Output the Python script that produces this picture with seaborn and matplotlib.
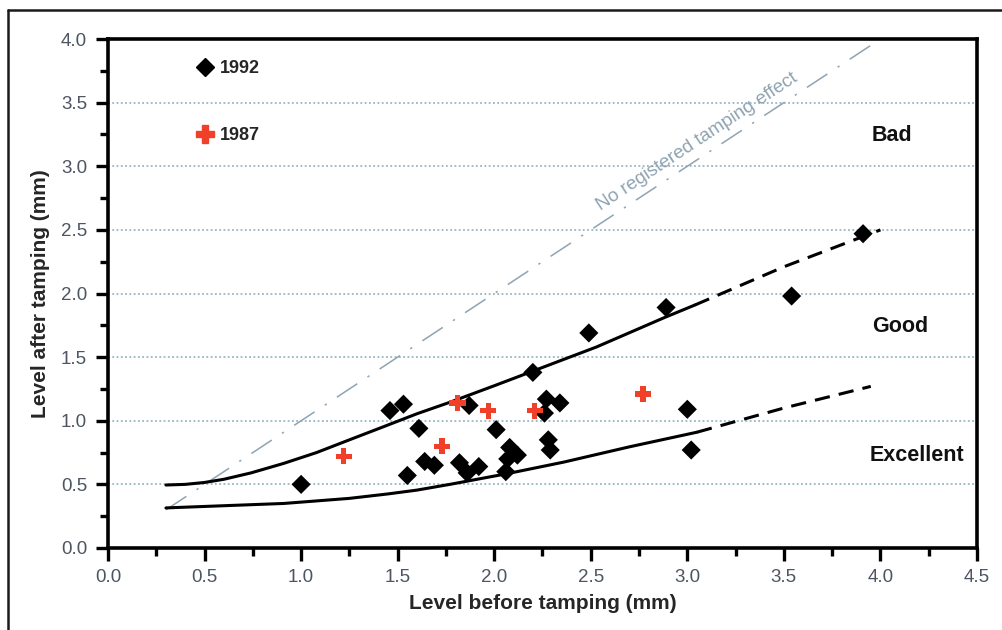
import numpy as np
import pandas as pd
import matplotlib
matplotlib.use("Agg")
import matplotlib.pyplot as plt
from matplotlib.lines import Line2D
from matplotlib.ticker import MultipleLocator, FormatStrFormatter
import seaborn as sns

# ---- data ----
x_1992 = [1.00, 1.46, 1.53, 1.61, 1.55, 1.64, 1.69, 1.82, 1.86, 1.92, 1.87, 2.01,
          2.20, 2.08, 2.12, 2.07, 2.06, 2.27, 2.34, 2.26, 2.28, 2.29, 3.91, 3.54,
          2.89, 2.49, 3.00, 3.02]
y_1992 = [0.50, 1.08, 1.13, 0.94, 0.57, 0.68, 0.65, 0.67, 0.59, 0.64, 1.12, 0.93,
          1.38, 0.79, 0.73, 0.70, 0.60, 1.17, 1.14, 1.06, 0.85, 0.77, 2.47, 1.98,
          1.89, 1.69, 1.09, 0.77]
x_1987 = [1.22, 1.73, 1.81, 1.97, 2.21, 2.77]
y_1987 = [0.72, 0.80, 1.14, 1.08, 1.08, 1.21]

upper_x = [0.30, 0.40, 0.50, 0.60, 0.74, 0.91, 1.08, 1.25, 1.43, 1.60, 1.77, 2.00,
           2.20, 2.53, 2.88, 3.04]
upper_y = [0.495, 0.50, 0.515, 0.54, 0.59, 0.665, 0.75, 0.85, 0.955, 1.055, 1.145,
           1.275, 1.39, 1.58, 1.81, 1.91]
upper_dash_x = [3.04, 3.50, 4.00]
upper_dash_y = [1.91, 2.21, 2.50]
lower_x = [0.30, 0.56, 0.91, 1.25, 1.45, 1.60, 1.77, 2.07, 2.36, 2.70, 3.05]
lower_y = [0.315, 0.33, 0.35, 0.39, 0.425, 0.455, 0.50, 0.585, 0.675, 0.795, 0.91]
lower_dash_x = [3.05, 3.50, 3.95]
lower_dash_y = [0.91, 1.10, 1.27]
diag_x = [0.30, 4.00]
diag_y = [0.30, 4.00]

zone_labels = ["Bad", "Good", "Excellent"]
zone_x = [4.06, 4.10, 4.19]
zone_y = [3.24, 1.74, 0.73]

years = ["1992", "1987"]

df = pd.DataFrame({
    "before": x_1992 + x_1987,
    "after": y_1992 + y_1987,
    "year": ["1992"] * len(x_1992) + ["1987"] * len(x_1987),
})

# ---- style ----
sns.set_style("white")
plt.rcParams["font.family"] = ["Liberation Sans", "DejaVu Sans"]

fig = plt.figure(figsize=(10.03, 6.30), dpi=100)
ax = fig.add_axes([108 / 1003, 1 - 548 / 630, (977 - 108) / 1003, (548 - 39) / 630])

grid_c = "#86aabb"
for yv in [0.5, 1.0, 1.5, 2.0, 2.5, 3.0, 3.5]:
    ax.axhline(yv, color=grid_c, lw=1.1, ls=(0, (1.2, 1.6)), zorder=0)

# diagonal reference
ax.plot(diag_x, diag_y, color="#8fa3b2", lw=1.1, ls=(0, (16, 8, 1.5, 8)), zorder=1)

# curves
for xs, ys, style in [(upper_x, upper_y, "-"), (lower_x, lower_y, "-"),
                      (upper_dash_x, upper_dash_y, (0, (5, 3))),
                      (lower_dash_x, lower_dash_y, (0, (5, 3)))]:
    sns.lineplot(x=xs, y=ys, ax=ax, color="black", lw=2.2, linestyle=style,
                 sort=False, estimator=None, zorder=2)

sns.scatterplot(data=df, x="before", y="after", hue="year", style="year",
                hue_order=years, style_order=years,
                palette={"1992": "black", "1987": "#f0402a"},
                markers={"1992": "D", "1987": "P"},
                s=95, linewidth=0, ax=ax, zorder=3, legend=False)
ax.collections[-1].set_sizes([95 if y == "1992" else 135 for y in df["year"]])

handles = [Line2D([], [], marker="D", color="black", ls="", markersize=9.5),
           Line2D([], [], marker="P", color="#f0402a", ls="", markersize=12.5)]
leg = ax.legend(handles, years, loc="upper left", bbox_to_anchor=(0.081, 0.99),
                frameon=False, labelspacing=2.75, handletextpad=0.2,
                prop={"weight": "bold", "size": 13}, handlelength=1.2)

for lab, xv, yv in zip(zone_labels, zone_x, zone_y):
    ax.text(xv, yv, lab, ha="center", va="center", fontsize=15.5, fontweight="bold",
            color="#111111")

ax.text(3.05, 3.19, "No registered tamping effect", rotation=33.4, ha="center",
        va="center", fontsize=13.7, color="#8fa3b2", rotation_mode="anchor")

ax.set_xlim(0, 4.5)
ax.set_ylim(0, 4.0)
ax.xaxis.set_major_locator(MultipleLocator(0.5))
ax.yaxis.set_major_locator(MultipleLocator(0.5))
ax.xaxis.set_minor_locator(MultipleLocator(0.25))
ax.yaxis.set_minor_locator(MultipleLocator(0.25))
ax.xaxis.set_major_formatter(FormatStrFormatter("%.1f"))
ax.yaxis.set_major_formatter(FormatStrFormatter("%.1f"))
ax.tick_params(which="major", direction="out", length=9, width=2.4, color="black",
               labelsize=13.5, labelcolor="#4d5560", pad=6)
ax.tick_params(which="minor", direction="out", length=6, width=2.4, color="black")
ax.tick_params(axis="both", which="both", bottom=True, left=True, top=False, right=False)
for sp in ax.spines.values():
    sp.set_linewidth(2.6)
    sp.set_color("black")
    sp.set_visible(True)

ax.set_xlabel("Level before tamping (mm)", fontsize=15, fontweight="bold", labelpad=6)
ax.set_ylabel("Level after tamping (mm)", fontsize=15, fontweight="bold", labelpad=8)

# outer frame (top and left edges)
fig.add_artist(Line2D([8 / 1003, 1.0], [1 - 10 / 630, 1 - 10 / 630],
                      transform=fig.transFigure, color="#1a1a1a", lw=1.8))
fig.add_artist(Line2D([8 / 1003, 8 / 1003], [0.0, 1 - 10 / 630],
                      transform=fig.transFigure, color="#1a1a1a", lw=1.8))

fig.savefig("out.png", dpi=100)
